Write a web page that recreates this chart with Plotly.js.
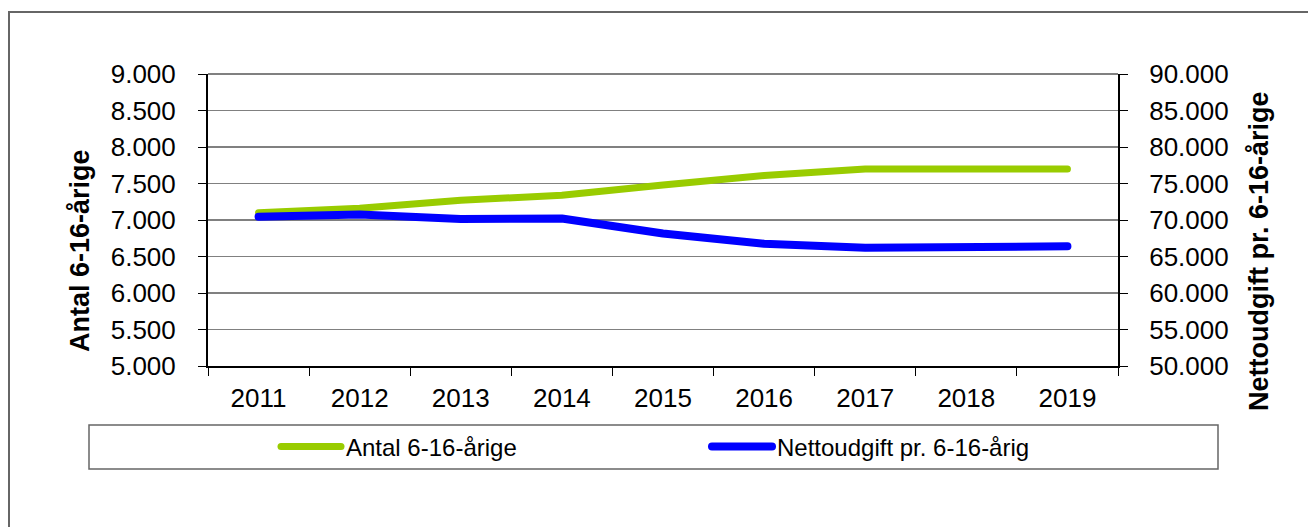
<!DOCTYPE html>
<html>
<head>
<meta charset="utf-8">
<script src="https://cdn.plot.ly/plotly-3.0.1.min.js"></script>
<style>
html,body{margin:0;padding:0;background:#fff;}
#chart{width:1308px;height:527px;}
path.js-line{stroke-linecap:round !important;stroke-linejoin:round !important;}
</style>
</head>
<body>
<div id="chart"></div>
<script>
// Data
const years = ['2011','2012','2013','2014','2015','2016','2017','2018','2019'];
const antal = [7100, 7160, 7270, 7340, 7480, 7610, 7700, 7700, 7700];
const netto = [70450, 70750, 70150, 70200, 68150, 66750, 66200, 66350, 66400];
const leftTicks = [5000, 5500, 6000, 6500, 7000, 7500, 8000, 8500, 9000];
const rightTicks = [50000, 55000, 60000, 65000, 70000, 75000, 80000, 85000, 90000];
const nameAntal = 'Antal 6-16-årige';
const nameNetto = 'Nettoudgift pr. 6-16-årig';
const titleLeft = 'Antal 6-16-årige';
const titleRight = 'Nettoudgift pr. 6-16-årige';

// Layout geometry (pixels)
const W = 1308, H = 527;
const L = 208, R = 1118, T = 74, B = 366;
const px2x = p => (p - L) / (R - L);
const py2y = p => (B - p) / (B - T);

const font = 'Liberation Sans, Arial, sans-serif';

const traces = [
  {x: years, y: antal, name: nameAntal, type: 'scatter', mode: 'lines',
   line: {color: '#99CC00', width: 7}, yaxis: 'y'},
  {x: years, y: netto, name: nameNetto, type: 'scatter', mode: 'lines',
   line: {color: '#0000FF', width: 8}, yaxis: 'y2'}
];

const layout = {
  width: W, height: H,
  margin: {l: L, r: W - R, t: T, b: H - B, pad: 0},
  paper_bgcolor: '#ffffff', plot_bgcolor: '#ffffff',
  separators: ',.',
  font: {family: font, color: '#000', size: 26},
  showlegend: true,
  xaxis: {
    type: 'category', showgrid: false, zeroline: false,
    showline: true, linecolor: '#000', linewidth: 2,
    ticks: 'outside', tickson: 'boundaries', ticklen: 8, tickcolor: '#000', tickwidth: 1,
    tickfont: {family: font, size: 26, color: '#000'},
    ticklabelstandoff: 8,
    range: [-0.5, 8.5]
  },
  yaxis: {
    range: [5000, 9000], tickvals: leftTicks, tickformat: ',d',
    showgrid: true, gridcolor: '#808080', gridwidth: 1.5, zeroline: false,
    showline: true, linecolor: '#000', linewidth: 2,
    ticks: 'outside', ticklen: 8, tickcolor: '#000', tickwidth: 1,
    tickfont: {family: font, size: 26, color: '#000'},
    ticklabelstandoff: 17
  },
  yaxis2: {
    range: [50000, 90000], tickvals: rightTicks, tickformat: ',d',
    overlaying: 'y', side: 'right',
    showgrid: false, zeroline: false,
    showline: true, linecolor: '#000', linewidth: 2,
    ticks: 'outside', ticklen: 8, tickcolor: '#000', tickwidth: 1,
    tickfont: {family: font, size: 26, color: '#000'},
    ticklabelstandoff: 16
  },
  legend: {
    orientation: 'h', xref: 'container', yref: 'container',
    x: 276 / W, y: 1 - 447 / H, xanchor: 'left', yanchor: 'middle',
    bgcolor: 'rgba(0,0,0,0)', borderwidth: 0,
    font: {family: font, size: 24, color: '#000'},
    entrywidth: 356, entrywidthmode: 'pixels',
    itemwidth: 60, traceorder: 'normal'
  },
  shapes: [
    // outer frame
    {type: 'rect', xref: 'paper', yref: 'paper', layer: 'below',
     x0: px2x(9), x1: px2x(1340), y0: py2y(560), y1: py2y(12),
     line: {color: '#666', width: 2}, fillcolor: 'rgba(0,0,0,0)'},
    // legend box
    {type: 'rect', xref: 'paper', yref: 'paper', layer: 'below',
     x0: px2x(89), x1: px2x(1218), y0: py2y(469), y1: py2y(425),
     line: {color: '#666', width: 1.5}, fillcolor: 'rgba(0,0,0,0)'},
    // top gridline at 9000
    {type: 'line', xref: 'paper', yref: 'paper', x0: 0, x1: 1, y0: 1, y1: 1,
     line: {color: '#808080', width: 2}}
  ],
  annotations: [
    {text: titleLeft, xref: 'paper', yref: 'paper', x: px2x(80), y: py2y(251),
     xanchor: 'center', yanchor: 'middle', textangle: -90, showarrow: false,
     font: {family: font, size: 27, color: '#000', weight: 'bold'}},
    {text: titleRight, xref: 'paper', yref: 'paper', x: px2x(1259), y: py2y(251),
     xanchor: 'center', yanchor: 'middle', textangle: -90, showarrow: false,
     font: {family: font, size: 27, color: '#000', weight: 'bold'}}
  ]
};

Plotly.newPlot('chart', traces, layout, {displayModeBar: false, staticPlot: true});
</script>
</body>
</html>
